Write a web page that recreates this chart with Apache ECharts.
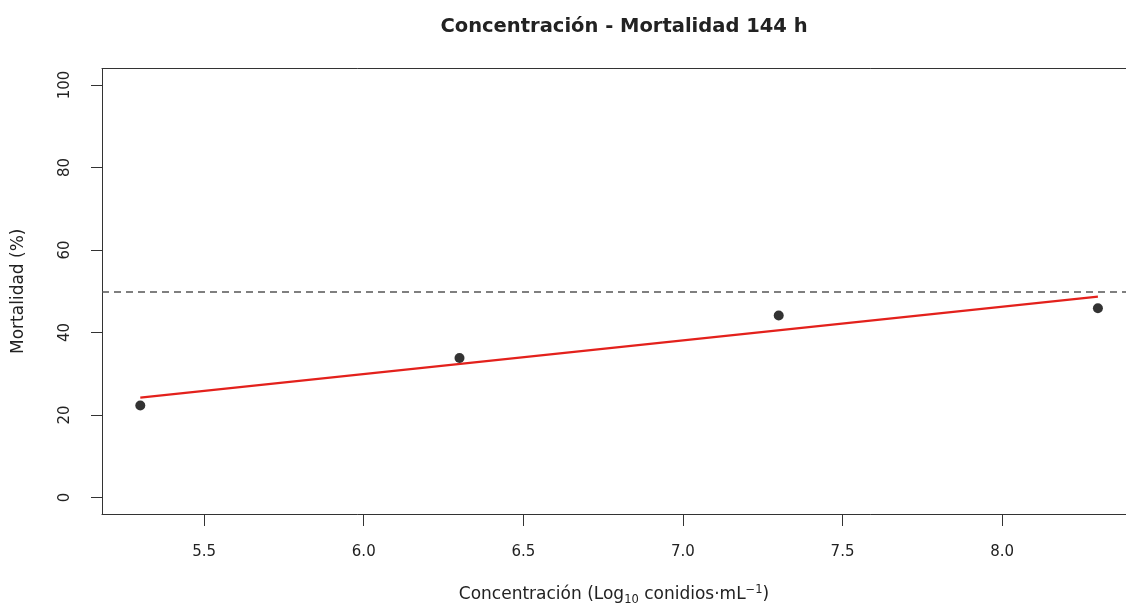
<!DOCTYPE html>
<html>
<head>
<meta charset="utf-8">
<script src="https://cdn.jsdelivr.net/npm/echarts@6/dist/echarts.min.js"></script>
<style>html,body{margin:0;padding:0;background:#fff}#c{width:1126px;height:611px}</style>
</head>
<body>
<div id="c"></div>
<script>
// Data
var concentration = [5.3, 6.3, 7.3, 8.3];
var mortality = [22.3, 33.8, 44.1, 45.9];
var fitX = [5.3, 8.3];
var fitY = [24.2, 48.7];
var threshold = 50;
var xTicks = [5.5, 6.0, 6.5, 7.0, 7.5, 8.0];
var yTicks = [0, 20, 40, 60, 80, 100];

var chart = echarts.init(document.getElementById('c'), null, {renderer: 'canvas'});
var txt = '#222';
var font = 'DejaVu Sans, sans-serif';
var boxLine = {color: '#333', width: 1};
chart.setOption({
  animation: false,
  backgroundColor: '#fff',
  title: {
    text: 'Concentración - Mortalidad 144 h',
    left: 619, top: 12, textAlign: 'center',
    textStyle: {fontFamily: font, fontWeight: 'bold', fontSize: 19.5, color: txt}
  },
  grid: {left: 102, top: 68.5, bottom: 93.5, right: 0, show: false, containLabel: false},
  xAxis: [{
    type: 'value', min: 5.18, max: 8.388, position: 'bottom',
    axisLine: {show: true, onZero: false, lineStyle: boxLine},
    splitLine: {show: false},
    axisTick: {show: true, inside: false, length: 12, customValues: xTicks, lineStyle: boxLine},
    axisLabel: {customValues: xTicks, margin: 31, fontFamily: font, fontSize: 15, color: txt,
      formatter: function (v) { return v.toFixed(1); }},
    name: 'Concentración (Log{sub|10} conidios·mL{sup|−1})',
    nameLocation: 'middle', nameGap: 70,
    nameTextStyle: {fontFamily: font, fontSize: 17, color: txt, lineHeight: 22,
      rich: {
        sub: {fontFamily: font, fontSize: 11.5, color: txt, verticalAlign: 'bottom', lineHeight: 16, padding: [7, 0, 0, 0]},
        sup: {fontFamily: font, fontSize: 11.5, color: txt, verticalAlign: 'top', lineHeight: 16, padding: [0, 0, 9, 0]}
      }}
  }, {
    type: 'value', min: 5.18, max: 8.388, position: 'top',
    axisLine: {show: true, onZero: false, lineStyle: boxLine},
    axisTick: {show: false}, axisLabel: {show: false}, splitLine: {show: false}
  }],
  yAxis: {
    type: 'value', min: -4, max: 104,
    axisLine: {show: true, onZero: false, lineStyle: boxLine},
    splitLine: {show: false},
    axisTick: {show: true, inside: false, length: 11, customValues: yTicks, lineStyle: boxLine},
    axisLabel: {customValues: yTicks, rotate: 90, margin: 29, fontFamily: font, fontSize: 15, color: txt},
    name: 'Mortalidad (%)',
    nameLocation: 'middle', nameRotate: 90, nameGap: 75,
    nameTextStyle: {fontFamily: font, fontSize: 17, color: txt}
  },
  series: [
    {
      type: 'line', xAxisIndex: 0, data: fitX.map(function (x, i) { return [x, fitY[i]]; }),
      symbol: 'none', lineStyle: {color: '#e3211c', width: 2.2}, z: 2,
      markLine: {
        silent: true, symbol: 'none', label: {show: false},
        lineStyle: {color: '#555', type: [7, 5], width: 1.5},
        data: [{yAxis: threshold}]
      }
    },
    {
      type: 'scatter', xAxisIndex: 0, data: concentration.map(function (x, i) { return [x, mortality[i]]; }),
      symbol: 'circle', symbolSize: 10, itemStyle: {color: '#000'}, z: 3
    }
  ]
});
</script>
</body>
</html>
